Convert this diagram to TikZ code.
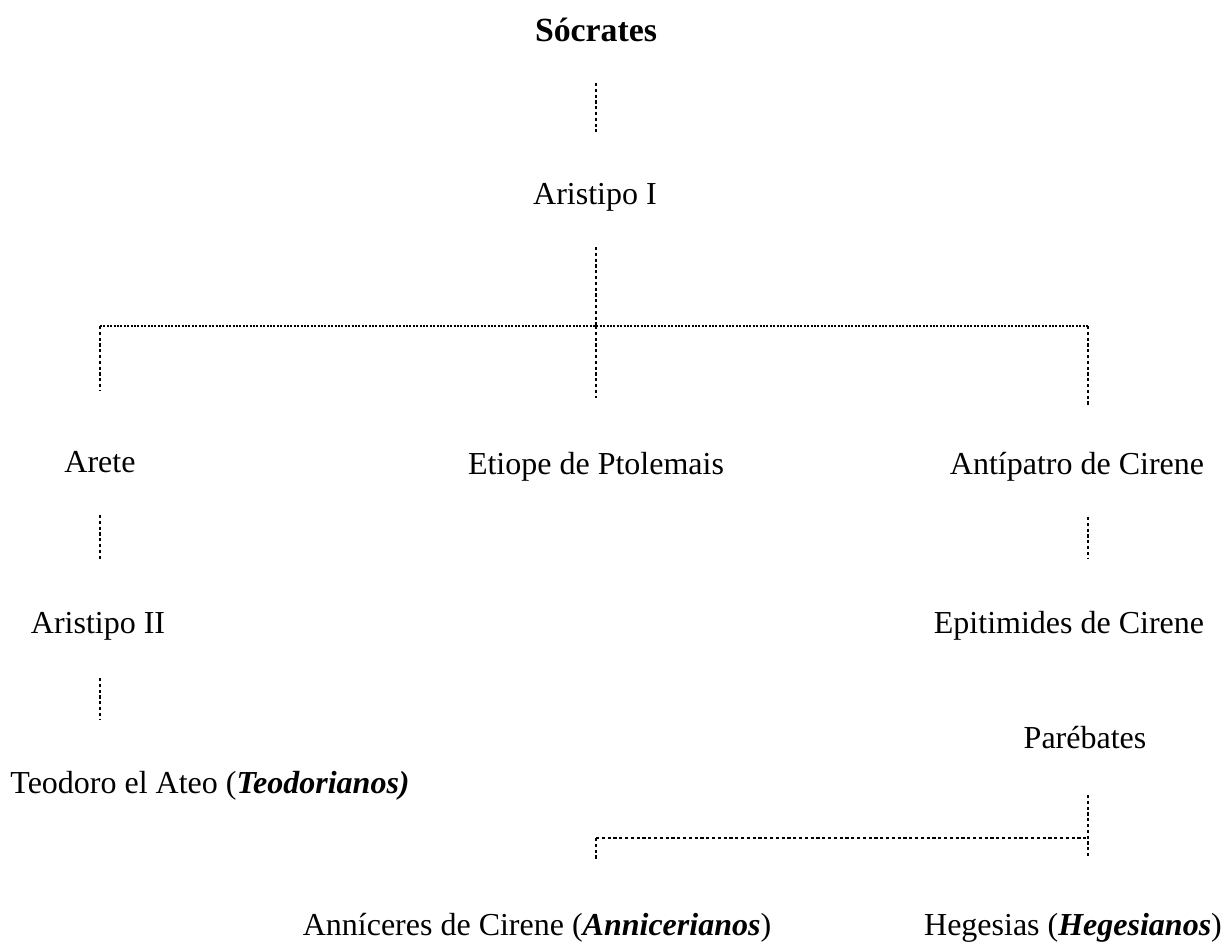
\documentclass[tikz,border=0pt]{standalone}
\usepackage{fontspec}
\setmainfont{Liberation Serif}
\tikzset{x=0.5pt,y=-0.5pt,
  person/.style={anchor=base,inner sep=0pt,font=\fontsize{16}{19}\selectfont},
  drop/.style={line width=0.6pt,dash pattern=on 1.6pt off 1.3pt,shorten <=21pt,shorten >=37pt},
  rowline/.style={line width=0.6pt,dash pattern=on 1pt off 0.7pt}}

\begin{document}
\begin{tikzpicture}
    \useasboundingbox (0,0) rectangle (1226,951);
    \node [person,font=\fontsize{16.9}{19}\selectfont\bfseries] (soc) at (596,42) {Sócrates};
    \node [person] (ari1) at (595,205) {Aristipo I};
    \node [person] (arete) at (100,473) {Arete};
    \node [person] (etiope) at (596,475) {Etiope de Ptolemais};
    \node [person] (antip) at (1077,475) {Antípatro de Cirene};
    \node [person] (ari2) at (98,633) {Aristipo II};
    \node [person] (epit) at (1069,633) {Epitimides de Cirene};
    \node [person] (pareb) at (1085,748) {Parébates};
    \node [person] (teod) at (210,793) {Teodoro el Ateo (\textbf{\textit{Teodorianos)}}};
    \node [person] (annic) at (537,935) {Anníceres de Cirene (\textbf{\textit{Annicerianos}})};
    \node [person] (heges) at (1073,935) {Hegesias (\textbf{\textit{Hegesianos}})};
    \coordinate (bar) at (596,326); \coordinate (barL) at (100,326); \coordinate (barR) at (1088,326);
    \coordinate (split) at (1088,838); \coordinate (splitL) at (596,838);
    % Socrates - Aristipo I - three branches
    \draw [drop,shorten <=20.5pt,shorten >=36.5pt] (soc.base) -- (ari1.base -| soc.base);
    \draw [drop,shorten >=0pt] (ari1.base -| bar) -- (bar);
    \draw [rowline] (barL) -- (barR);
    \draw [drop,shorten <=0pt,shorten >=41.5pt] (barL) -- (arete.base);
    \draw [drop,shorten <=0pt,shorten >=38.5pt] (bar) -- (etiope.base);
    \draw [drop,shorten <=0pt,shorten >=35pt] (barR) -- (barR |- antip.base);
    % lower lines
    \draw [drop] (arete.base) -- (arete.base |- ari2.base);
    \draw [drop] (antip.base -| barR) -- (barR |- epit.base);
    \draw [drop,shorten <=22.5pt] (ari2.base -| barL) -- (barL |- teod.base);
    \draw [drop,shorten <=23.5pt,shorten >=38.5pt] (pareb.base -| split) -- (split |- heges.base);
    \draw [drop,shorten <=0pt,shorten >=0pt] (splitL) -- (split);
    \draw [drop,shorten <=0pt,shorten >=37.5pt] (splitL) -- (splitL |- annic.base);
\end{tikzpicture}
\end{document}
